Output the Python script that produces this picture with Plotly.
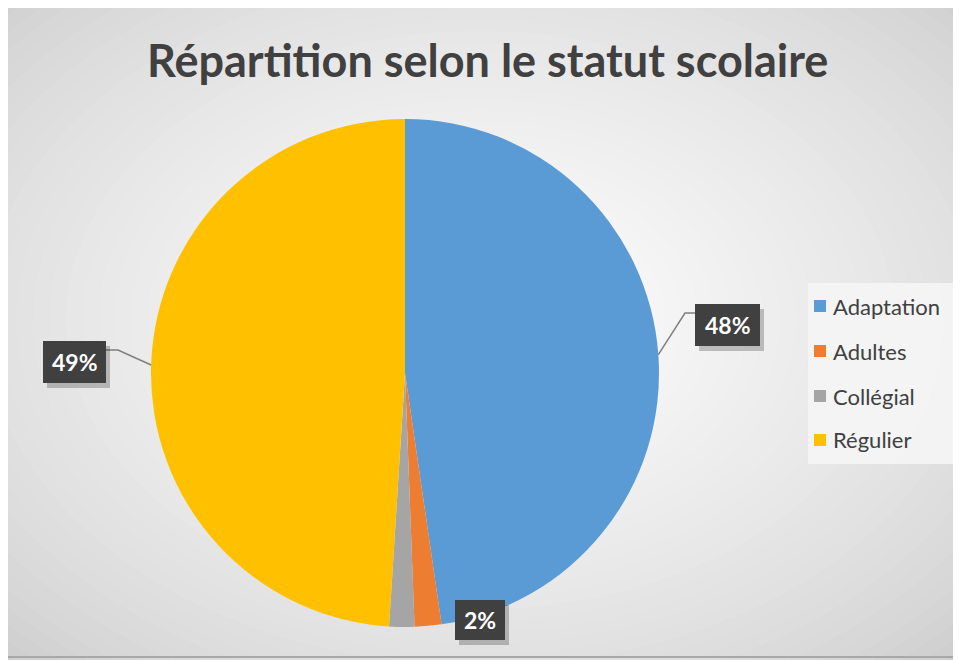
import plotly.graph_objects as go
import math

# ---- data ----
categories = ["Adaptation", "Adultes", "Collégial", "Régulier"]
values = [47.7, 1.7, 1.6, 49.0]
colors = ["#5B9BD5", "#ED7D31", "#A5A5A5", "#FFC000"]
label_texts = ["48%", "2%", None, "49%"]
title_text = "Répartition selon le statut scolaire"

# page body has an 8px margin -> figure fills the rest of the window
OFF = 8
W, H = 961 - OFF, 660 - OFF
def px(x): return (x - OFF) / W
def py(y): return 1 - (y - OFF) / H

# pie geometry (screen pixels)
CX, CY, R = 405, 373, 254

fig = go.Figure()
fig.add_trace(go.Pie(
    labels=categories, values=values, sort=False, direction="clockwise", rotation=0,
    marker=dict(colors=colors, line=dict(width=0)),
    textinfo="none", hoverinfo="label+percent", showlegend=False,
    domain=dict(x=[px(CX - R), px(CX + R)], y=[py(CY + R), py(CY - R)]),
))

shapes = []
shapes.append(dict(type="rect", xref="paper", yref="paper", x0=0, x1=1, y0=0, y1=1,
                   fillcolor="#c6c6c6", line=dict(width=0), layer="below"))
# radial gradient via concentric ellipses
gx, gy = 480, 320
N = 45
for i in range(N):
    t = i / (N - 1)
    rx = 720 * (1 - t) + 5
    ry = 500 * (1 - t) + 5
    c = int(198 + (255 - 198) * (t ** 0.65))
    c = min(c, 255)
    shapes.append(dict(type="circle", xref="paper", yref="paper",
                       x0=px(gx - rx), x1=px(gx + rx), y0=py(gy + ry), y1=py(gy - ry),
                       fillcolor=f"rgb({c},{c},{c})", line=dict(width=0), layer="below"))
shapes.append(dict(type="line", xref="paper", yref="paper", x0=0, x1=1, y0=py(657), y1=py(657),
                   line=dict(color="#a8a8a8", width=2), layer="below"))

annotations = []
annotations.append(dict(text=f"<b>{title_text}</b>", x=px(488), y=py(60), xref="paper", yref="paper",
                        showarrow=False, font=dict(family="Lato", size=45, color="#404040"),
                        xanchor="center", yanchor="middle"))

total = sum(values)
cum = 0
boxes = {0: (695, 304, 760, 346), 1: (455, 600, 505, 640), 3: (43, 341, 106, 383)}
for i, v in enumerate(values):
    mid = (cum + v / 2) / total * 2 * math.pi
    cum += v
    if label_texts[i] is None:
        continue
    ex, ey = CX + R * math.sin(mid), CY - R * math.cos(mid)
    x0, y0, x1, y1 = boxes[i]
    if i == 0:
        shapes.append(dict(type="path", xref="paper", yref="paper",
                           path=f"M {px(ex)} {py(ey)} L {px(685)} {py(313)} L {px(x0)} {py(313)}",
                           line=dict(color="#7f7f7f", width=1.5)))
    elif i == 3:
        shapes.append(dict(type="path", xref="paper", yref="paper",
                           path=f"M {px(ex)} {py(ey)} L {px(118)} {py(350)} L {px(x1)} {py(350)}",
                           line=dict(color="#7f7f7f", width=1.5)))
    shapes.append(dict(type="rect", xref="paper", yref="paper", x0=px(x0 + 4), x1=px(x1 + 4),
                       y0=py(y1 + 5), y1=py(y0 + 5), fillcolor="rgba(0,0,0,0.22)", line=dict(width=0)))
    shapes.append(dict(type="rect", xref="paper", yref="paper", x0=px(x0), x1=px(x1),
                       y0=py(y1), y1=py(y0), fillcolor="#404040", line=dict(width=0)))
    annotations.append(dict(text=f"<b>{label_texts[i]}</b>", x=px((x0 + x1) / 2), y=py((y0 + y1) / 2),
                            xref="paper", yref="paper", showarrow=False,
                            font=dict(family="Lato", size=23, color="white"),
                            xanchor="center", yanchor="middle"))

# legend (manual)
shapes.append(dict(type="rect", xref="paper", yref="paper", x0=px(808), x1=px(953), y0=py(464), y1=py(283),
                   fillcolor="rgba(245,245,245,0.9)", line=dict(width=0)))
leg_y = [306, 351, 396, 440]
for cat, col, ly in zip(categories, colors, leg_y):
    shapes.append(dict(type="rect", xref="paper", yref="paper", x0=px(814), x1=px(826),
                       y0=py(ly + 6), y1=py(ly - 6), fillcolor=col, line=dict(width=0)))
    annotations.append(dict(text=cat, x=px(831), y=py(ly), xref="paper", yref="paper", showarrow=False,
                            font=dict(family="Lato", size=22, color="#404040"),
                            xanchor="left", yanchor="middle"))

fig.update_layout(width=W, height=H, margin=dict(l=0, r=0, t=0, b=0),
                  paper_bgcolor="white", plot_bgcolor="white",
                  shapes=shapes, annotations=annotations, showlegend=False)
fig.write_html("out.html")
